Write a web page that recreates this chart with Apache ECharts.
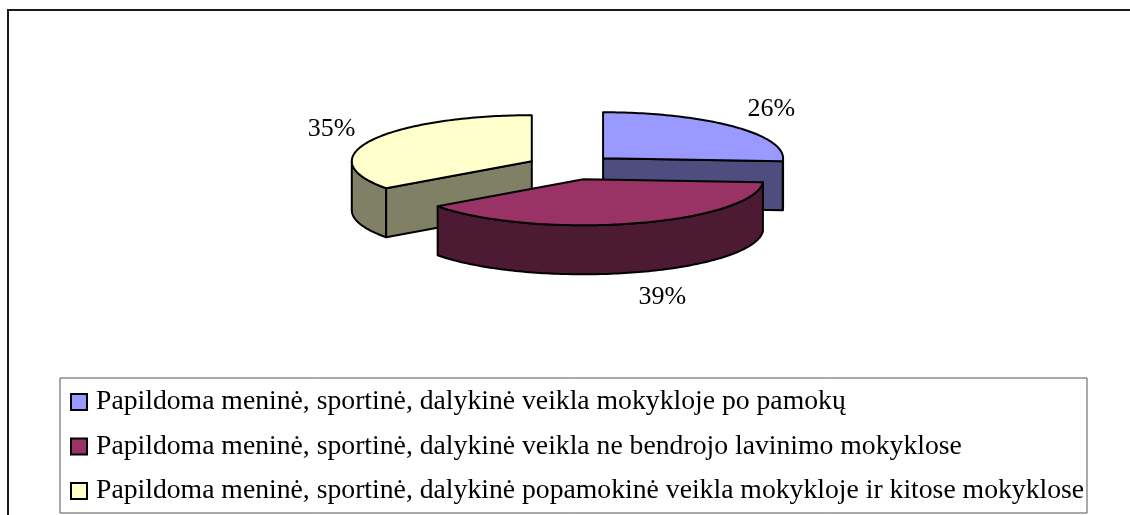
<!DOCTYPE html>
<html><head><meta charset="utf-8">
<script src="https://cdn.jsdelivr.net/npm/echarts@6/dist/echarts.min.js"></script>
<style>html,body{margin:0;padding:0;background:#fff}#c{width:1130px;height:515px}</style>
</head><body><div id="c"></div>
<script>
const categories = [
  'Papildoma meninė, sportinė, dalykinė veikla mokykloje po pamokų',
  'Papildoma meninė, sportinė, dalykinė veikla ne bendrojo lavinimo mokyklose',
  'Papildoma meninė, sportinė, dalykinė popamokinė veikla mokykloje ir kitose mokyklose'
];
const values = [26, 39, 35];
const topColors = ['#9999FF', '#993366', '#FFFFCC'];
const sideColors = ['#4D4D80', '#4D1A33', '#808066'];

const geo = {cx: 571, cy: 167, rx: 180, ry: 46, depth: 49, ex: 44, ey: 12.8, lfx: 1.1, lfy: 1.55};
const total = values.reduce((a, b) => a + b, 0);
const starts = [], ends = [];
let acc = 0;
values.forEach(v => { starts.push(acc / total * 2 * Math.PI); acc += v; ends.push(acc / total * 2 * Math.PI); });

function arcPts(P, a, b, dy) {
  const pts = [];
  const n = Math.max(2, Math.ceil(Math.abs(b - a) / 0.02));
  for (let k = 0; k <= n; k++) pts.push(P(a + (b - a) * k / n, dy));
  return pts;
}

function makeRender(i) {
  return function (params, api) {
    const a1 = starts[i], a2 = ends[i], m = (a1 + a2) / 2;
    const ox = geo.cx + Math.sin(m) * geo.ex, oy = geo.cy - Math.cos(m) * geo.ey;
    const d = geo.depth;
    const P = (a, dy) => [ox + geo.rx * Math.sin(a), oy - geo.ry * Math.cos(a) + (dy || 0)];
    const st = {stroke: '#000', lineWidth: 2, lineJoin: 'round'};
    const children = [];
    const w1 = Math.max(a1, Math.PI / 2), w2 = Math.min(a2, 1.5 * Math.PI);
    if (w2 > w1) {
      const pts = arcPts(P, w1, w2, 0).concat(arcPts(P, w2, w1, d));
      children.push({type: 'polygon', shape: {points: pts}, style: Object.assign({fill: sideColors[i]}, st)});
    }
    if (Math.sin(a1) < -1e-6) {
      children.push({type: 'polygon', shape: {points: [[ox, oy], P(a1), P(a1, d), [ox, oy + d]]}, style: Object.assign({fill: sideColors[i]}, st)});
    }
    if (Math.sin(a2) > 1e-6) {
      children.push({type: 'polygon', shape: {points: [[ox, oy], P(a2), P(a2, d), [ox, oy + d]]}, style: Object.assign({fill: sideColors[i]}, st)});
    }
    children.push({type: 'polygon', shape: {points: [[ox, oy]].concat(arcPts(P, a1, a2, 0))}, style: Object.assign({fill: topColors[i]}, st)});
    const pct = Math.round(api.value(0) / total * 100) + '%';
    const s = Math.sin(m);
    const lx = ox + s * geo.rx * geo.lfx;
    const ly = oy - Math.cos(m) * geo.ry * geo.lfy + (Math.cos(m) < 0 ? d : 0);
    children.push({type: 'text', style: {text: pct, x: lx, y: ly, align: s >= 0 ? 'left' : 'right', verticalAlign: 'middle', fill: '#000', font: '26px "Liberation Serif"'}});
    return {type: 'group', children: children};
  };
}

const zRank = values.map((v, i) => -Math.cos((starts[i] + ends[i]) / 2));
const series = categories.map((name, i) => ({
  type: 'custom',
  name: name,
  coordinateSystem: 'none',
  z: 2 + zRank.filter(r => r < zRank[i]).length,
  itemStyle: {color: topColors[i]},
  data: [[values[i]]],
  renderItem: makeRender(i)
}));

const chart = echarts.init(document.getElementById('c'), null, {renderer: 'canvas'});
chart.setOption({
  animation: false,
  backgroundColor: '#fff',
  legend: {
    orient: 'vertical', left: 60, top: 378, height: 300, width: 1100,
    padding: [10, 2, 8, 10], itemGap: 16.5,
    itemWidth: 16, itemHeight: 16, icon: 'rect',
    borderColor: '#555', borderWidth: 1,
    itemStyle: {borderColor: '#000', borderWidth: 2},
    textStyle: {fontFamily: 'Liberation Serif', fontSize: 27.7, color: '#000', lineHeight: 24, width: 989, overflow: 'none', padding: [0, 0, 0, 4]},
    data: categories
  },
  graphic: [{type: 'polyline', shape: {points: [[8, 530], [8, 10], [1140, 10]]}, style: {stroke: '#1a1a1a', lineWidth: 2, fill: null}, z: 100}],
  series: series
});
</script></body></html>
